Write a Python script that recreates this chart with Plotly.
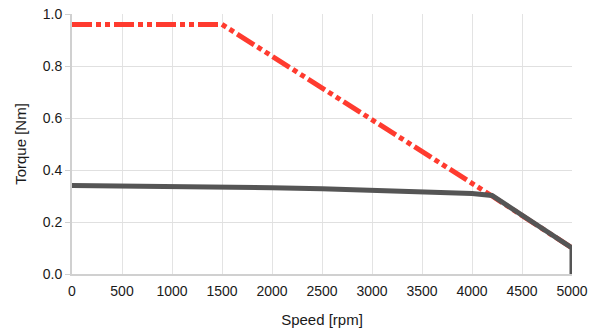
import plotly.graph_objects as go

speed_peak = [0, 1500, 4200, 5000]
torque_peak = [0.96, 0.96, 0.30, 0.10]

speed_cont = [0, 500, 1000, 1500, 2000, 2500, 3000, 3500, 4000, 4200, 5000, 5000]
torque_cont = [0.340, 0.339, 0.337, 0.335, 0.332, 0.328, 0.323, 0.317, 0.310, 0.302, 0.100, 0.0]

x_ticks = list(range(0, 5001, 500))
y_ticks = [0.0, 0.2, 0.4, 0.6, 0.8, 1.0]

fig = go.Figure()
fig.add_trace(go.Scatter(x=speed_peak, y=torque_peak, mode="lines",
                         line=dict(color="#ff3b2f", width=5, dash="20px,4px,5px,4px,5px,4px"),
                         showlegend=False, hoverinfo="skip"))
fig.add_trace(go.Scatter(x=speed_cont, y=torque_cont, mode="lines",
                         line=dict(color="#555555", width=5),
                         showlegend=False, hoverinfo="skip"))

fig.update_layout(
    width=590, height=335,
    margin=dict(l=72, r=18, t=14, b=61),
    paper_bgcolor="white", plot_bgcolor="white",
    font=dict(family="Liberation Sans, Arial, sans-serif", size=14, color="#1a1a1a"),
)
fig.update_xaxes(range=[0, 5000], tickvals=x_ticks, ticktext=[str(v) for v in x_ticks],
                 showgrid=True, gridcolor="#e3e3e3", gridwidth=1,
                 showline=True, linecolor="#d0d0d0", linewidth=2,
                 zeroline=False, ticks="outside", ticklen=3, tickcolor="white",
                 automargin=False, ticklabeloverflow="allow",
                 title=dict(text="Speed [rpm]", font=dict(size=15), standoff=17))
fig.update_yaxes(range=[0, 1.0], tickvals=y_ticks, ticktext=[f"{v:.1f}" for v in y_ticks],
                 showgrid=True, gridcolor="#e0e0e0", gridwidth=1,
                 showline=True, linecolor="#d0d0d0", linewidth=2,
                 zeroline=False, ticks="outside", ticklen=5, tickcolor="#d0d0d0",
                 automargin=False, ticklabeloverflow="allow",
                 title=dict(text="Torque [Nm]", font=dict(size=15), standoff=12))
fig.write_html("out.html", config={"displayModeBar": False},
               post_script="document.body.style.margin='0';document.body.style.overflow='hidden';")
